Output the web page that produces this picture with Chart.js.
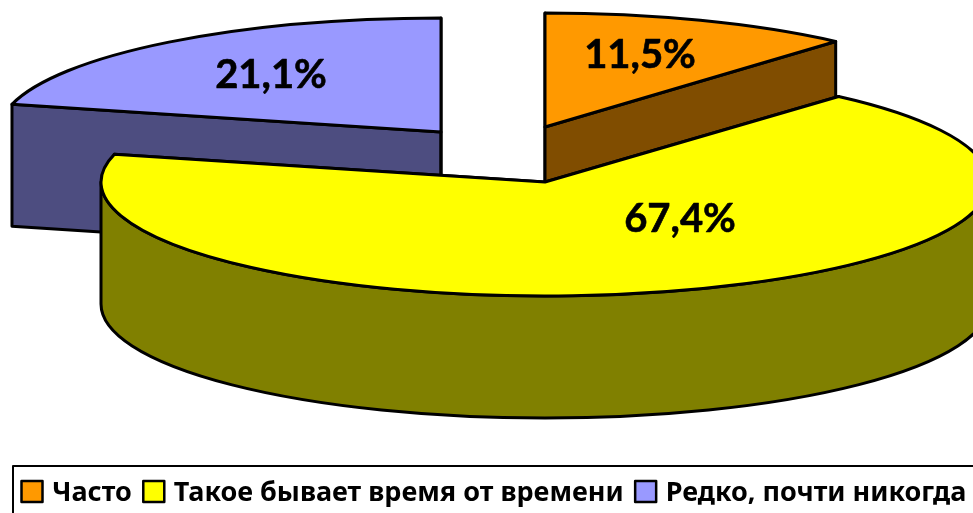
<!DOCTYPE html>
<html><head><meta charset="utf-8">
<style>html,body{margin:0;padding:0;background:#fff;overflow:hidden}canvas{display:block}</style>
<script src="https://cdn.jsdelivr.net/npm/chart.js@4"></script>
</head><body><canvas id="c" width="973" height="513"></canvas>
<script>
const categories = ['Часто', 'Такое бывает время от времени', 'Редко, почти никогда'];
const values = [11.5, 67.4, 21.1];
const valueLabels = ['11,5%', '67,4%', '21,1%'];
const colors = ['#FF9900', '#FFFF00', '#9999FF'];
const sideColors = ['#804D00', '#808000', '#4D4D80'];

const LABEL_FONT = 'Lato, sans-serif';
const LEGEND_FONT = '"Noto Sans", sans-serif';
const SQUASH = 114 / 444, RADIUS = 444, DEPTH = 122;
const PIE_CENTER = {x: 511, y: 154};
const EXPLODE = [{x: 34, y: -27}, {x: 34, y: 28}, {x: -70, y: -22}];
const WIDTH_FIT = [0.99, 1, 0.996];
const LABEL_POS = [{x: 640, y: 55}, {x: 680, y: 219}, {x: 271, y: 75}];
const DRAW_ORDER = [2, 0, 1];

const pie3d = {
  id: 'pie3d',
  beforeDatasetDraw(chart, args) {
    const ctx = chart.ctx, arcs = args.meta.data;
    ctx.save();
    ctx.lineJoin = 'round';
    ctx.lineWidth = 3;
    ctx.strokeStyle = '#000';
    for (const i of DRAW_ORDER) {
      const arc = arcs[i];
      const cx = PIE_CENTER.x + EXPLODE[i].x, cy = PIE_CENTER.y + EXPLODE[i].y;
      const r = arc.outerRadius * WIDTH_FIT[i], ry = arc.outerRadius * SQUASH;
      const a0 = arc.startAngle, a1 = arc.endAngle;
      const pt = a => [cx + r * Math.cos(a), cy + ry * Math.sin(a)];
      ctx.fillStyle = sideColors[i];
      for (const a of [a0, a1]) {
        const p = pt(a);
        ctx.beginPath();
        ctx.moveTo(cx, cy); ctx.lineTo(p[0], p[1]);
        ctx.lineTo(p[0], p[1] + DEPTH); ctx.lineTo(cx, cy + DEPTH);
        ctx.closePath(); ctx.fill(); ctx.stroke();
      }
      for (let k = -1; k <= 1; k++) {
        const s = Math.max(a0, 2 * Math.PI * k), e = Math.min(a1, 2 * Math.PI * k + Math.PI);
        if (e <= s) continue;
        ctx.beginPath();
        ctx.ellipse(cx, cy, r, ry, 0, s, e);
        ctx.ellipse(cx, cy + DEPTH, r, ry, 0, e, s, true);
        ctx.closePath(); ctx.fill(); ctx.stroke();
      }
      ctx.save();
      ctx.translate(cx, cy); ctx.scale(WIDTH_FIT[i], SQUASH); ctx.translate(-arc.x, -arc.y);
      arc.draw(ctx);
      ctx.restore();
      ctx.beginPath();
      ctx.moveTo(cx, cy);
      ctx.ellipse(cx, cy, r, ry, 0, a0, a1);
      ctx.closePath(); ctx.stroke();
    }
    ctx.restore();
    return false;
  },
  afterDraw(chart) {
    const ctx = chart.ctx, lg = chart.legend;
    ctx.save();
    ctx.fillStyle = '#000';
    ctx.font = 'bold 40px ' + LABEL_FONT;
    ctx.textAlign = 'center'; ctx.textBaseline = 'middle';
    ctx.strokeStyle = '#000'; ctx.lineWidth = 0.6; ctx.lineJoin = 'round';
    valueLabels.forEach((t, i) => {
      ctx.fillText(t, LABEL_POS[i].x, LABEL_POS[i].y);
      ctx.strokeText(t, LABEL_POS[i].x, LABEL_POS[i].y);
    });
    ctx.lineWidth = 2;
    ctx.strokeRect(13, 466, 1000, 100);
    ctx.lineWidth = 2.5;
    lg.legendHitBoxes.forEach((h, i) => {
      ctx.fillStyle = colors[i];
      ctx.fillRect(h.left, 481, 21, 21);
      ctx.strokeRect(h.left, 481, 21, 21);
    });
    ctx.restore();
  }
};

new Chart(document.getElementById('c'), {
  type: 'pie',
  data: {labels: categories, datasets: [{data: values, backgroundColor: colors, borderWidth: 0, radius: RADIUS}]},
  plugins: [pie3d],
  options: {
    responsive: false, animation: false,
    layout: {padding: {left: 10, right: -40, bottom: -4}},
    plugins: {
      tooltip: {enabled: false},
      legend: {
        position: 'bottom', align: 'start',
        labels: {
          boxWidth: 17, boxHeight: 17, padding: 11.5, color: '#000',
          font: {family: LEGEND_FONT, size: 27, weight: 'bold'},
          generateLabels: c => categories.map((t, i) => ({text: t, fillStyle: 'rgba(0,0,0,0)', strokeStyle: 'rgba(0,0,0,0)', lineWidth: 0, index: i, fontColor: '#000'}))
        }
      }
    }
  }
});
</script></body></html>
